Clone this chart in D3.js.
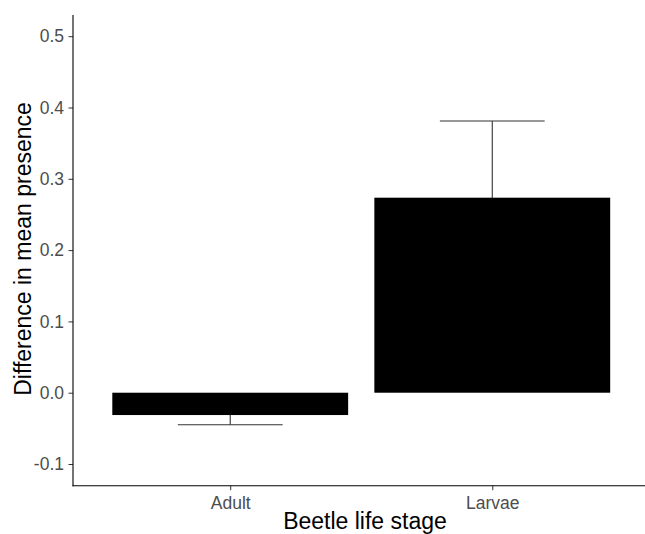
<!DOCTYPE html>
<html>
<head>
<meta charset="utf-8">
<script src="https://cdn.jsdelivr.net/npm/d3@7"></script>
<style>
  body { margin: 0; background: #fff; }
  svg { display: block; font-family: "Liberation Sans", Arial, sans-serif; }
</style>
</head>
<body>
<svg id="chart"></svg>
<script>
// data
const stages = ['Adult', 'Larvae'];
const meanDiff = [-0.0313, 0.2735];
const stdErr = [0.0136, 0.1075];
const yTicks = [-0.1, 0.0, 0.1, 0.2, 0.3, 0.4, 0.5];

let svgWidth = 645, svgHeight = 534;
let plotLeft = 73, plotTop = 15, plotBottom = 485.7;

let svg = d3.select('#chart').attr('width', svgWidth).attr('height', svgHeight);

let data = stages.map((s, i) => ({ stage: s, pos: i + 1, mean: meanDiff[i], se: stdErr[i] }));

// discrete axis like ggplot: positions 1..n with 0.6 expansion
let x = d3.scaleLinear().domain([0.4, 2.6]).range([plotLeft, 649.5]);
let y = d3.scaleLinear().domain([-0.1304, 0.5297]).range([plotBottom, plotTop]);

// error bars (drawn under the bars)
let eb = svg.append('g').attr('stroke', '#333').attr('stroke-width', 1.1);
eb.selectAll('.stem').data(data).enter().append('line')
  .attr('x1', d => x(d.pos)).attr('x2', d => x(d.pos))
  .attr('y1', d => y(d.mean - d.se)).attr('y2', d => y(d.mean + d.se));
eb.selectAll('.cap-lo').data(data).enter().append('line')
  .attr('x1', d => x(d.pos - 0.2)).attr('x2', d => x(d.pos + 0.2))
  .attr('y1', d => y(d.mean - d.se)).attr('y2', d => y(d.mean - d.se));
eb.selectAll('.cap-hi').data(data).enter().append('line')
  .attr('x1', d => x(d.pos - 0.2)).attr('x2', d => x(d.pos + 0.2))
  .attr('y1', d => y(d.mean + d.se)).attr('y2', d => y(d.mean + d.se));

// bars
svg.append('g').selectAll('rect').data(data).enter().append('rect')
  .attr('x', d => x(d.pos - 0.45))
  .attr('width', d => x(d.pos + 0.45) - x(d.pos - 0.45))
  .attr('y', d => y(Math.max(0, d.mean)))
  .attr('height', d => Math.abs(y(d.mean) - y(0)))
  .attr('fill', '#000');

// y axis (plain hyphen for negatives, as in the reference)
let fmt = d => d3.format('.1f')(d).replace('\u2212', '-');
let yAxis = d3.axisLeft(y).tickValues(yTicks).tickFormat(fmt).tickSize(4.5).tickPadding(4.5);
let gy = svg.append('g').attr('transform', `translate(${plotLeft},0)`).call(yAxis);
gy.select('.domain').remove();
gy.append('line').attr('x1', 0).attr('x2', 0).attr('y1', plotTop).attr('y2', plotBottom + 0.5)
  .attr('stroke', '#000').attr('stroke-width', 1.1);
gy.selectAll('.tick line').attr('stroke', '#333');
gy.selectAll('.tick text').attr('fill', '#4d4d4d').attr('font-size', 17.5)
  .attr('font-family', '"Liberation Sans", Arial, sans-serif');

// x axis
let xAxis = d3.axisBottom(x).tickValues(data.map(d => d.pos)).tickFormat((d, i) => stages[i]).tickSize(4.5).tickPadding(6);
let gx = svg.append('g').attr('transform', `translate(0,${plotBottom})`).call(xAxis);
gx.select('.domain').remove();
gx.append('line').attr('x1', plotLeft - 0.5).attr('x2', svgWidth).attr('y1', 0).attr('y2', 0)
  .attr('stroke', '#000').attr('stroke-width', 1.1);
gx.selectAll('.tick line').attr('stroke', '#333');
gx.selectAll('.tick text').attr('fill', '#4d4d4d').attr('font-size', 17.5)
  .attr('font-family', '"Liberation Sans", Arial, sans-serif');

// axis titles
svg.append('text').attr('x', 365).attr('y', 529).attr('text-anchor', 'middle')
  .attr('font-size', 23).attr('fill', '#000').text('Beetle life stage');
svg.append('text').attr('transform', 'translate(31,249) rotate(-90)').attr('text-anchor', 'middle')
  .attr('font-size', 23).attr('fill', '#000').text('Difference in mean presence');
</script>
</body>
</html>
